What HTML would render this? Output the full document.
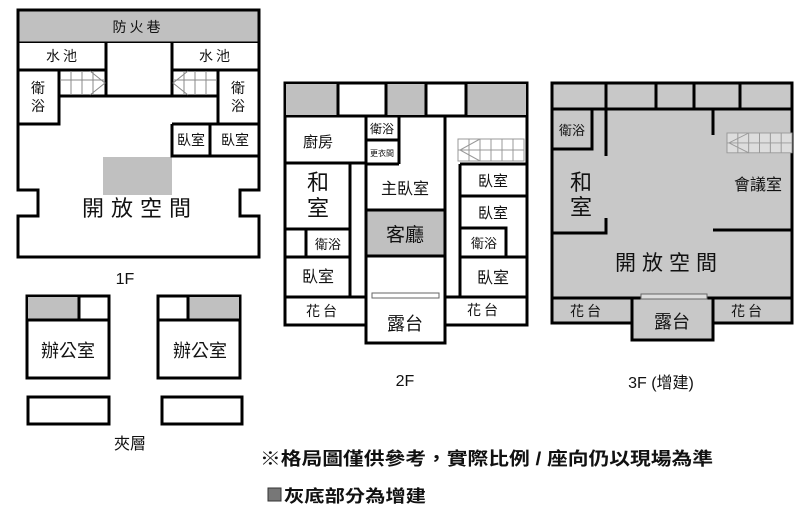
<!DOCTYPE html>
<html><head><meta charset="utf-8"><style>
html,body{margin:0;padding:0;background:#fff;}
svg{display:block;}
text{font-family:"Liberation Sans","Noto Sans CJK TC",sans-serif;fill:#111;}
</style></head><body>
<svg width="800" height="512" viewBox="0 0 800 512" xmlns="http://www.w3.org/2000/svg">
<g stroke="#000" stroke-width="3" fill="none">
<!-- 1F -->
<rect x="18" y="10" width="241" height="33" fill="#c0c0c0"/>
<path d="M18 43V190H38V216H18V257H259V216H240V190H259V43" fill="#fff"/>
<rect x="103" y="157" width="69" height="38" fill="#c0c0c0" stroke="none"/>
<path d="M18 70H106M172 70H259M106 43V96M172 43V96M59 96H218M59 70V124H18M218 70V124H259M172 124H259M172 124V156H259M210 124V156"/>
</g>
<g stroke="#888" stroke-width="1" fill="none">
<path d="M60 80H105M71 71V95M82 71V95M93 71V95M90 71L105 83L90 95"/>
<path d="M173 80H217M184 71V95M195 71V95M206 71V95M188 71L173 83L188 95"/>
</g>
<g stroke="#000" stroke-width="3" fill="none">
<!-- offices -->
<rect x="27" y="296" width="82" height="82" fill="#fff"/>
<rect x="28" y="297" width="51" height="23" fill="#c0c0c0" stroke="none"/>
<path d="M27 320H109M79 296V320"/>
<rect x="158" y="296" width="82" height="82" fill="#fff"/>
<rect x="188" y="297" width="51" height="23" fill="#c0c0c0" stroke="none"/>
<path d="M158 320H240M188 296V320"/>
<rect x="28" y="397" width="81" height="27" fill="#fff"/>
<rect x="162" y="397" width="80" height="27" fill="#fff"/>

<!-- 2F -->
<rect x="285" y="83" width="242" height="33" fill="#fff"/>
<rect x="286" y="84" width="52" height="31" fill="#c0c0c0" stroke="none"/>
<rect x="386" y="84" width="40" height="31" fill="#c0c0c0" stroke="none"/>
<rect x="466" y="84" width="60" height="31" fill="#c0c0c0" stroke="none"/>
<path d="M338 83V116M386 83V116M426 83V116M466 83V116"/>
<path d="M285 116V325H366M527 116V325H445" fill="#fff"/>
<path d="M366 116V343H445V116"/>
<rect x="366" y="210" width="79" height="46" fill="#c0c0c0"/>
<path d="M285 163H366M285 229H350V163M350 163V297M306 229V257M285 257H350M285 297H366M366 140H399M366 164H399M399 116V164M445 297H527M460 164V297M460 164H527M460 196H527M460 228H506V257M460 257H527"/>
<rect x="372" y="293" width="67" height="5" fill="#fff" stroke="#666" stroke-width="1"/>

<!-- 3F -->
<rect x="552" y="83" width="240" height="215" fill="#c8c8c8"/>
<path d="M552 109H792M606 83V109M656 83V109M694 83V109M740 83V109"/>
<path d="M552 149H592V109M606 109V156M606 218V233H552M713 109V135M713 230H792"/>
<rect x="552" y="298" width="80" height="25" fill="#c8c8c8"/>
<rect x="713" y="298" width="79" height="25" fill="#c8c8c8"/>
<rect x="632" y="298" width="81" height="42" fill="#c8c8c8"/>
<rect x="641" y="294" width="66" height="5" fill="#ddd" stroke="#666" stroke-width="1"/>
</g>
<g transform="translate(458,139)"><rect x="0" y="0" width="66" height="22" fill="#fff" stroke="#999" stroke-width="1"/><path d="M11 0V22M22 0V22M33 0V22M44 0V22M55 0V22M0 11H66M22 0L2 11L22 22" stroke="#999" stroke-width="1" fill="none"/></g>
<g transform="translate(727,133) scale(0.985,0.9)"><rect x="0" y="0" width="66" height="22" fill="#ddd" stroke="#999" stroke-width="1"/><path d="M11 0V22M22 0V22M33 0V22M44 0V22M55 0V22M0 11H66M22 0L2 11L22 22" stroke="#999" stroke-width="1" fill="none"/></g>

<!-- labels 1F -->
<g font-size="14" text-anchor="middle">
<text x="138" y="32" letter-spacing="3">防火巷</text>
<text x="63" y="61" letter-spacing="3">水池</text>
<text x="216" y="61" letter-spacing="3">水池</text>
<text x="38" y="93">衛</text><text x="38" y="111">浴</text>
<text x="238" y="93">衛</text><text x="238" y="111">浴</text>
<text x="191" y="145">臥室</text>
<text x="235" y="145">臥室</text>
<text x="140" y="216" font-size="22" letter-spacing="7">開放空間</text>
<text x="125" y="284" font-size="16">1F</text>
<text x="68" y="357" font-size="18">辦公室</text>
<text x="200" y="357" font-size="18">辦公室</text>
<text x="130" y="449" font-size="16">夾層</text>
</g>
<!-- labels 2F -->
<g font-size="15" text-anchor="middle">
<text x="318" y="147">廚房</text>
<text x="382" y="133" font-size="12">衛浴</text>
<text x="382" y="156" font-size="8">更衣間</text>
<text x="318" y="190" font-size="22">和</text>
<text x="318" y="216" font-size="22">室</text>
<text x="328" y="249" font-size="13">衛浴</text>
<text x="318" y="282" font-size="16">臥室</text>
<text x="405" y="194" font-size="16">主臥室</text>
<text x="405" y="241" font-size="19">客廳</text>
<text x="323" y="316" letter-spacing="3" font-size="14">花台</text>
<text x="405" y="330" font-size="18">露台</text>
<text x="493" y="186">臥室</text>
<text x="493" y="218">臥室</text>
<text x="484" y="248" font-size="13">衛浴</text>
<text x="493" y="283" font-size="16">臥室</text>
<text x="484" y="315" letter-spacing="3" font-size="14">花台</text>
<text x="405" y="386" font-size="16">2F</text>
</g>
<!-- labels 3F -->
<g font-size="15" text-anchor="middle">
<text x="572" y="135" font-size="13">衛浴</text>
<text x="581" y="190" font-size="22">和</text>
<text x="581" y="215" font-size="22">室</text>
<text x="758" y="190" font-size="16">會議室</text>
<text x="669" y="270" font-size="21" letter-spacing="6">開放空間</text>
<text x="587" y="316" letter-spacing="3" font-size="14">花台</text>
<text x="672" y="328" font-size="18">露台</text>
<text x="748" y="316" letter-spacing="3" font-size="14">花台</text>
<text x="661" y="388" font-size="16">3F (增建)</text>
</g>
<text x="260" y="465" font-size="18" font-weight="bold" textLength="453" lengthAdjust="spacingAndGlyphs">※格局圖僅供參考，實際比例 / 座向仍以現場為準</text>
<rect x="268" y="488" width="13" height="13" fill="#777" stroke="#333" stroke-width="1"/>
<text x="284" y="502" font-size="17" font-weight="bold" textLength="142" lengthAdjust="spacingAndGlyphs">灰底部分為增建</text>
</svg>
</body></html>
